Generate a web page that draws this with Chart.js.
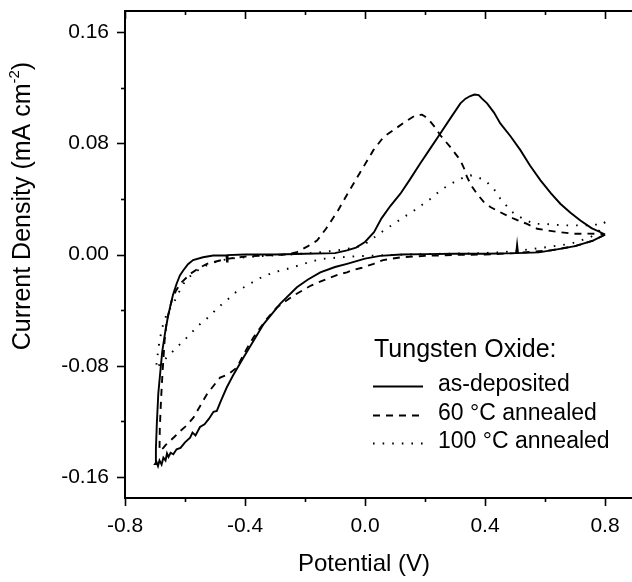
<!DOCTYPE html>
<html>
<head>
<meta charset="utf-8">
<script src="https://cdn.jsdelivr.net/npm/chart.js@4.4.1/dist/chart.umd.min.js"></script>
<style>
  body { margin: 0; background: #fff; }
  #wrap { width: 632px; height: 582px; }
</style>
</head>
<body>
<div id="wrap"><canvas id="cv" width="632" height="582"></canvas></div>
<script>
// tick labels
const potentialLabels = [-0.8, -0.4, 0.0, 0.4, 0.8];
const currentLabels = [-0.16, -0.08, 0.00, 0.08, 0.16];

const seriesNames = ['as-deposited', '60 \u00B0C annealed', '100 \u00B0C annealed'];

// as-deposited (closed loop, starting at 0.8 V)
const depositedX = [0.80, 0.76, 0.70, 0.65, 0.58, 0.51, 0.507, 0.504, 0.40, 0.30, 0.20, 0.12, 0.05, 0.00, -0.06, -0.10, -0.149, -0.19, -0.227, -0.283, -0.338, -0.405, -0.44, -0.461, -0.48, -0.494, -0.505, -0.52, -0.535, -0.55, -0.565, -0.575, -0.583, -0.60, -0.615, -0.628, -0.639, -0.648, -0.655, -0.66, -0.665, -0.672, -0.678, -0.685, -0.69, -0.695, -0.700,
  -0.697, -0.694, -0.689, -0.683, -0.676, -0.667, -0.658, -0.650, -0.640, -0.628, -0.617, -0.606, -0.590, -0.573, -0.54, -0.506, -0.462, -0.460, -0.458, -0.40, -0.30, -0.20, -0.10, -0.06, -0.03, 0.00, 0.03, 0.055, 0.085, 0.118, 0.15, 0.184, 0.22, 0.251, 0.285, 0.318, 0.335, 0.351, 0.365, 0.379, 0.39, 0.407, 0.43, 0.451, 0.485, 0.518, 0.55, 0.585, 0.62, 0.651, 0.685, 0.718, 0.755, 0.785, 0.80];
const depositedY = [0.0143, 0.010, 0.006, 0.004, 0.0015, 0.001, 0.007, 0.001, 0.0005, 0.0005, 0.0003, 0.0, -0.001, -0.003, -0.0067, -0.009, -0.0128, -0.018, -0.0236, -0.0355, -0.050, -0.074, -0.087, -0.0956, -0.105, -0.1124, -0.113, -0.118, -0.122, -0.124, -0.130, -0.128, -0.1317, -0.135, -0.139, -0.140, -0.1436, -0.1425, -0.1455, -0.143, -0.148, -0.146, -0.151, -0.148, -0.152, -0.149, -0.1506,
  -0.140, -0.122, -0.100, -0.086, -0.070, -0.057, -0.046, -0.038, -0.029, -0.021, -0.015, -0.0115, -0.007, -0.004, -0.002, -0.0007, -0.0005, -0.005, -0.0004, 0.0, 0.0, 0.0005, 0.001, 0.003, 0.005, 0.009, 0.016, 0.026, 0.035, 0.0437, 0.054, 0.0654, 0.077, 0.087, 0.098, 0.1086, 0.112, 0.1139, 0.115, 0.1146, 0.112, 0.1086, 0.102, 0.0942, 0.085, 0.075, 0.064, 0.0533, 0.044, 0.0365, 0.030, 0.0245, 0.019, 0.016, 0.0143];

// 60 C annealed
const annealed60X = [0.80, 0.76, 0.70, 0.62, 0.50, 0.40, 0.30, 0.20, 0.12, 0.06, 0.029, -0.01, -0.038, -0.06, -0.083, -0.127, -0.18, -0.238, -0.294, -0.33, -0.372, -0.40, -0.427, -0.455, -0.483, -0.527, -0.55, -0.572, -0.595, -0.616, -0.635, -0.650, -0.665, -0.672, -0.685,
  -0.684, -0.680, -0.675, -0.668, -0.661, -0.644, -0.630, -0.616, -0.583, -0.555, -0.527, -0.461, -0.40, -0.32, -0.26, -0.227, -0.19, -0.16, -0.13, -0.11, -0.09, -0.06, -0.03, -0.005, 0.028, 0.062, 0.095, 0.134, 0.168, 0.19, 0.201, 0.218, 0.235, 0.251, 0.284, 0.318, 0.33, 0.34, 0.356, 0.373, 0.395, 0.418, 0.445, 0.474, 0.496, 0.54, 0.574, 0.607, 0.651, 0.696, 0.74, 0.785, 0.80];
const annealed60Y = [0.0143, 0.010, 0.006, 0.003, 0.001, 0.0, -0.0003, -0.001, -0.002, -0.004, -0.0067, -0.0095, -0.011, -0.0128, -0.014, -0.0175, -0.0223, -0.0295, -0.038, -0.047, -0.0596, -0.070, -0.0812, -0.086, -0.0884, -0.1004, -0.109, -0.1173, -0.123, -0.1269, -0.131, -0.134, -0.137, -0.139, -0.141,
  -0.125, -0.105, -0.085, -0.062, -0.0476, -0.033, -0.026, -0.021, -0.014, -0.010, -0.0067, -0.0031, -0.0015, -0.0005, 0.0, 0.0017, 0.006, 0.010, 0.0185, 0.025, 0.0317, 0.043, 0.054, 0.063, 0.075, 0.0845, 0.0894, 0.0954, 0.100, 0.1005, 0.099, 0.0954, 0.091, 0.0857, 0.0773, 0.0677, 0.062, 0.0557, 0.049, 0.0437, 0.038, 0.0341, 0.031, 0.028, 0.0257, 0.022, 0.0185, 0.0173, 0.016, 0.0149, 0.015, 0.0149, 0.0143];

// 100 C annealed
const annealed100X = [0.80, 0.78, 0.752, 0.685, 0.607, 0.518, 0.45, 0.35, 0.25, 0.15, 0.04, -0.027, -0.08, -0.138, -0.18, -0.238, -0.27, -0.305, -0.35, -0.394, -0.43, -0.461, -0.49, -0.516, -0.545, -0.572, -0.60, -0.628, -0.655, -0.675, -0.694, -0.697,
  -0.69, -0.685, -0.675, -0.660, -0.639, -0.62, -0.605, -0.58, -0.55, -0.52, -0.483, -0.43, -0.35, -0.25, -0.18, -0.094, -0.027, 0.0, 0.029, 0.067, 0.10, 0.13, 0.16, 0.195, 0.225, 0.251, 0.28, 0.307, 0.33, 0.351, 0.373, 0.401, 0.415, 0.429, 0.451, 0.468, 0.485, 0.505, 0.529, 0.562, 0.596, 0.662, 0.696, 0.762, 0.785, 0.80];
const annealed100Y = [0.0233, 0.017, 0.0125, 0.0077, 0.0053, 0.0029, 0.0015, 0.0008, 0.0005, 0.0, -0.0007, -0.0012, -0.002, -0.0031, -0.005, -0.009, -0.011, -0.0128, -0.017, -0.0223, -0.027, -0.033, -0.038, -0.044, -0.049, -0.0548, -0.061, -0.0668, -0.0728, -0.077, -0.0812, -0.082,
  -0.070, -0.062, -0.052, -0.042, -0.0355, -0.027, -0.021, -0.015, -0.0103, -0.007, -0.0043, -0.0025, -0.0012, 0.0, 0.001, 0.0029, 0.0053, 0.0075, 0.012, 0.018, 0.0225, 0.027, 0.031, 0.0365, 0.041, 0.0461, 0.050, 0.0533, 0.0555, 0.0569, 0.0557, 0.0533, 0.050, 0.0473, 0.0401, 0.036, 0.0317, 0.028, 0.0257, 0.022, 0.022, 0.0209, 0.0209, 0.0209, 0.0225, 0.0233];

const dashStyles = [[], [7, 6], [1.6, 8]];

function toPoints(xs, ys) {
    return xs.map((x, i) => ({ x: x, y: ys[i] }));
}

function makeSet(idx, xs, ys) {
    return {
        label: seriesNames[idx],
        data: toPoints(xs, ys),
        showLine: true,
        borderColor: '#000',
        borderWidth: 1.9,
        borderDash: dashStyles[idx],
        pointRadius: 0,
        tension: 0,
        fill: false
    };
}

function isLabelled(v, list) {
    return list.some(t => Math.abs(t - v) < 1e-6);
}

const FONT = '"Liberation Sans", Arial, Helvetica, sans-serif';

// axes decoration, titles and the in-plot legend
const decoPlugin = {
    id: 'deco',
    afterDraw(chart) {
        const ctx = chart.ctx;
        const area = chart.chartArea;
        const xs = chart.scales.x;
        const ys = chart.scales.y;
        ctx.save();
        ctx.strokeStyle = '#000';
        ctx.fillStyle = '#000';
        ctx.lineWidth = 2;

        // top frame line
        ctx.beginPath();
        ctx.moveTo(area.left - 1, area.top);
        ctx.lineTo(area.right + 2, area.top);
        ctx.stroke();

        ctx.lineWidth = 1.6;
        xs.ticks.forEach(t => {
            const px = Math.round(xs.getPixelForValue(t.value)) + 0.5;
            const len = isLabelled(t.value, potentialLabels) ? 8 : 4;
            ctx.beginPath();
            ctx.moveTo(px, area.bottom);
            ctx.lineTo(px, area.bottom + len);
            ctx.moveTo(px, area.top);
            ctx.lineTo(px, area.top + len);
            ctx.stroke();
        });
        ys.ticks.forEach(t => {
            const py = Math.round(ys.getPixelForValue(t.value)) + 0.5;
            const len = isLabelled(t.value, currentLabels) ? 8 : 4;
            ctx.beginPath();
            ctx.moveTo(area.left, py);
            ctx.lineTo(area.left - len, py);
            ctx.stroke();
        });

        // x title
        ctx.font = '24px ' + FONT;
        ctx.textAlign = 'center';
        ctx.textBaseline = 'middle';
        ctx.fillText('Potential (V)', 364, 564);

        // y title with superscript
        ctx.save();
        ctx.translate(23, 206);
        ctx.rotate(-Math.PI / 2);
        const part1 = 'Current Density (mA cm';
        const sup = '-2';
        const part3 = ')';
        ctx.font = '25px ' + FONT;
        const w1 = ctx.measureText(part1).width;
        const w3 = ctx.measureText(part3).width;
        ctx.font = '15px ' + FONT;
        const w2 = ctx.measureText(sup).width;
        let x0 = -(w1 + w2 + w3) / 2;
        ctx.textAlign = 'left';
        ctx.font = '25px ' + FONT;
        ctx.fillText(part1, x0, 0);
        ctx.font = '15px ' + FONT;
        ctx.fillText(sup, x0 + w1, -8);
        ctx.font = '25px ' + FONT;
        ctx.fillText(part3, x0 + w1 + w2, 0);
        ctx.restore();

        // legend
        ctx.font = '25px ' + FONT;
        ctx.textAlign = 'left';
        ctx.textBaseline = 'middle';
        ctx.fillText('Tungsten Oxide:', 374, 350);
        ctx.font = '23px ' + FONT;
        const rowY = [385, 414, 442];
        chart.data.datasets.forEach((ds, i) => {
            ctx.save();
            ctx.lineWidth = 1.9;
            ctx.setLineDash(ds.borderDash);
            ctx.beginPath();
            ctx.moveTo(373, rowY[i] + 1.5);
            ctx.lineTo(423, rowY[i] + 1.5);
            ctx.stroke();
            ctx.restore();
            ctx.fillText(ds.label, 438, rowY[i]);
        });
        ctx.restore();
    }
};

new Chart(document.getElementById('cv'), {
    type: 'scatter',
    data: {
        datasets: [
            makeSet(0, depositedX, depositedY),
            makeSet(1, annealed60X, annealed60Y),
            makeSet(2, annealed100X, annealed100Y)
        ]
    },
    options: {
        responsive: false,
        animation: false,
        layout: { padding: { top: 11, right: 0, left: 0, bottom: 0 } },
        plugins: {
            legend: { display: false },
            tooltip: { enabled: false }
        },
        scales: {
            x: {
                type: 'linear',
                min: -0.8,
                max: 0.89,
                afterFit: s => { s.height = 84; s.paddingLeft = 0; s.paddingRight = 0; },
                border: { display: true, color: '#000', width: 2 },
                grid: { display: false, drawTicks: false },
                ticks: {
                    stepSize: 0.2,
                    includeBounds: false,
                    padding: 16,
                    color: '#000',
                    font: { family: FONT, size: 21 },
                    maxRotation: 0,
                    autoSkip: false,
                    callback: v => isLabelled(v, potentialLabels) ? v.toFixed(1) : ''
                }
            },
            y: {
                type: 'linear',
                min: -0.175,
                max: 0.175,
                afterFit: s => { s.width = 125; s.paddingTop = 0; s.paddingBottom = 0; },
                border: { display: true, color: '#000', width: 2 },
                grid: { display: false, drawTicks: false },
                ticks: {
                    stepSize: 0.04,
                    includeBounds: false,
                    padding: 16,
                    color: '#000',
                    font: { family: FONT, size: 21 },
                    autoSkip: false,
                    callback: v => isLabelled(v, currentLabels) ? v.toFixed(2) : ''
                }
            }
        }
    },
    plugins: [decoPlugin]
});
</script>
</body>
</html>
